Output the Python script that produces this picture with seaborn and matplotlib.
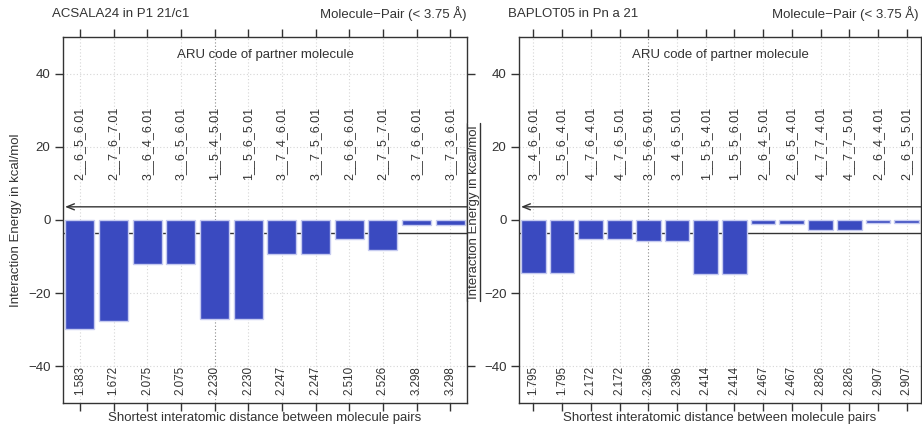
import numpy as np
import pandas as pd
import matplotlib
matplotlib.use("Agg")
import matplotlib.pyplot as plt
from matplotlib.patches import Rectangle
from matplotlib.lines import Line2D
from matplotlib.transforms import blended_transform_factory
import seaborn as sns

sns.set_theme(style="white")
plt.rcParams["font.family"] = ["Liberation Sans", "DejaVu Sans"]

W, H = 922, 428

# ---- ACSALA24 ----
left_title = "ACSALA24 in P1 21/c1"
left_aru = ["2__6_5_6.01", "2__7_6_7.01", "3__6_4_6.01", "3__6_5_6.01",
            "1__5_4_5.01", "1__5_6_5.01", "3__7_4_6.01", "3__7_5_6.01",
            "2__6_6_6.01", "2__7_5_7.01", "3__7_6_6.01", "3__7_3_6.01"]
left_dist = [1.583, 1.672, 2.075, 2.075, 2.230, 2.230,
             2.247, 2.247, 2.510, 2.526, 3.298, 3.298]
left_energy = [-29.9, -27.7, -12.0, -12.0, -27.1, -27.1,
               -9.3, -9.3, -5.2, -8.2, -1.4, -1.4]

# ---- BAPLOT05 ----
right_title = "BAPLOT05 in Pn a 21"
right_aru = ["3__4_6_6.01", "3__5_6_4.01", "4__7_6_4.01", "4__7_6_5.01",
             "3__5_6_5.01", "3__4_6_5.01", "1__5_5_4.01", "1__5_5_6.01",
             "2__6_4_5.01", "2__6_5_4.01", "4__7_7_4.01", "4__7_7_5.01",
             "2__6_4_4.01", "2__6_5_5.01"]
right_dist = [1.795, 1.795, 2.172, 2.172, 2.396, 2.396, 2.414,
              2.414, 2.467, 2.467, 2.826, 2.826, 2.907, 2.907]
right_energy = [-14.4, -14.4, -5.3, -5.3, -5.8, -5.8, -14.7,
                -14.7, -1.2, -1.2, -2.7, -2.7, -0.9, -0.9]

pair_label = "Molecule\u2212Pair (< 3.75 \u00c5)"
y_label = "Interaction Energy in kcal/mol"
x_label = "Shortest interatomic distance between molecule pairs"
aru_header = "ARU code of partner molecule"
y_ticks = [-40, -20, 0, 20, 40]
threshold = 3.6

BAR = "#3A4AC0"
BAR_EDGE = "#c6cbf0"
INK = "#333333"
FS = 9.5

fig = plt.figure(figsize=(W / 100, H / 100), dpi=100)


def px_axes(x0, x1, y0, y1):
    return fig.add_axes([x0 / W, 1 - y1 / H, (x1 - x0) / W, (y1 - y0) / H])


def fig_text(x, y, s, **kw):
    return fig.text(x / W, 1 - y / H, s, color=INK, **kw)


def draw_panel(ax, aru, dist, energy, highlight):
    n = len(energy)
    df = pd.DataFrame({"pair": np.arange(n), "energy": energy})

    # dotted grid
    for i in range(n):
        ax.axvline(i, color="#8a8a8a" if i == highlight else "#d6d6d6",
                   lw=0.8, ls=(0, (1, 2)), zorder=0)
    for yv in y_ticks:
        if yv != 0:
            ax.axhline(yv, color="#d6d6d6", lw=0.8, ls=(0, (1, 2)), zorder=0)

    # lower threshold line sits behind the bars
    ax.axhline(-threshold, color=INK, lw=1, zorder=1)

    sns.barplot(data=df, x="pair", y="energy", ax=ax, color=BAR,
                saturation=1, width=0.86, edgecolor=BAR_EDGE,
                linewidth=1, zorder=2)

    # upper threshold line with a small open arrowhead on the left
    tr = blended_transform_factory(ax.transAxes, ax.transData)
    ax.annotate("", xy=(0.005, threshold), xycoords=tr,
                xytext=(1.0, threshold), textcoords=tr,
                arrowprops=dict(arrowstyle="->,head_length=0.45,head_width=0.18",
                                color=INK, lw=1, shrinkA=0, shrinkB=0),
                zorder=3)

    for i in range(n):
        ax.text(i, 11.0, aru[i], rotation=90, ha="center", va="bottom",
                fontsize=9, color=INK, zorder=4)
        ax.text(i, -47.9, f"{dist[i]:.3f}", rotation=90, ha="center",
                va="bottom", fontsize=8.4, color=INK, zorder=4)

    ax.text(0.5, 45.2, aru_header, transform=tr, ha="center", va="center",
            fontsize=FS, color=INK)

    ax.set_xlim(-0.5, n - 0.5)
    ax.set_ylim(-50, 50)
    ax.set_xticks(range(n))
    ax.set_xticklabels([])
    ax.set_yticks(y_ticks)
    ax.set_yticklabels([str(v).replace("-", "\u2212") for v in y_ticks])
    ax.set_xlabel("")
    ax.set_ylabel("")
    ax.tick_params(axis="x", bottom=True, top=True, direction="out",
                   length=6, width=1, color=INK)
    ax.tick_params(axis="y", left=True, right=True, direction="out",
                   length=6, width=1, color=INK, labelsize=FS,
                   labelcolor=INK, pad=3)
    for sp in ax.spines.values():
        sp.set_visible(True)
        sp.set_color(INK)
        sp.set_linewidth(1)
    ax.set_facecolor("white")


ax_l = px_axes(63, 467, 37, 403)
draw_panel(ax_l, left_aru, left_dist, left_energy, highlight=4)

ax_r = px_axes(519, 921, 37, 403)
draw_panel(ax_r, right_aru, right_dist, right_energy, highlight=4)

# headers above each panel
fig_text(52, 14, left_title, ha="left", va="center", fontsize=FS)
fig_text(466, 14, pair_label, ha="right", va="center", fontsize=FS)
fig_text(508, 14, right_title, ha="left", va="center", fontsize=FS)
fig_text(918, 14, pair_label, ha="right", va="center", fontsize=FS)

# axis titles
fig_text(16, 220, y_label, ha="center", va="center", rotation=90, fontsize=FS)
fig_text(265, 418, x_label, ha="center", va="center", fontsize=FS)
fig_text(720, 418, x_label, ha="center", va="center", fontsize=FS)

# y title of the second panel, boxed over the first panel's right edge
t = fig.text(474 / W, 1 - 212 / H, y_label, ha="center", va="center",
             rotation=90, fontsize=FS, color=INK, zorder=7)
fig.canvas.draw()
bb = t.get_window_extent().transformed(fig.transFigure.inverted())
y0, y1 = bb.y0 - 2 / H, bb.y1 + 2 / H
fig.add_artist(Rectangle((467 / W, y0), 13 / W, y1 - y0,
                         transform=fig.transFigure, facecolor="white",
                         edgecolor="none", zorder=5))
for xp in (467, 480):
    fig.add_artist(Line2D([xp / W, xp / W], [y0, y1],
                          transform=fig.transFigure, color=INK, lw=1,
                          zorder=6))

fig.savefig("out.png", dpi=100, facecolor="white")
